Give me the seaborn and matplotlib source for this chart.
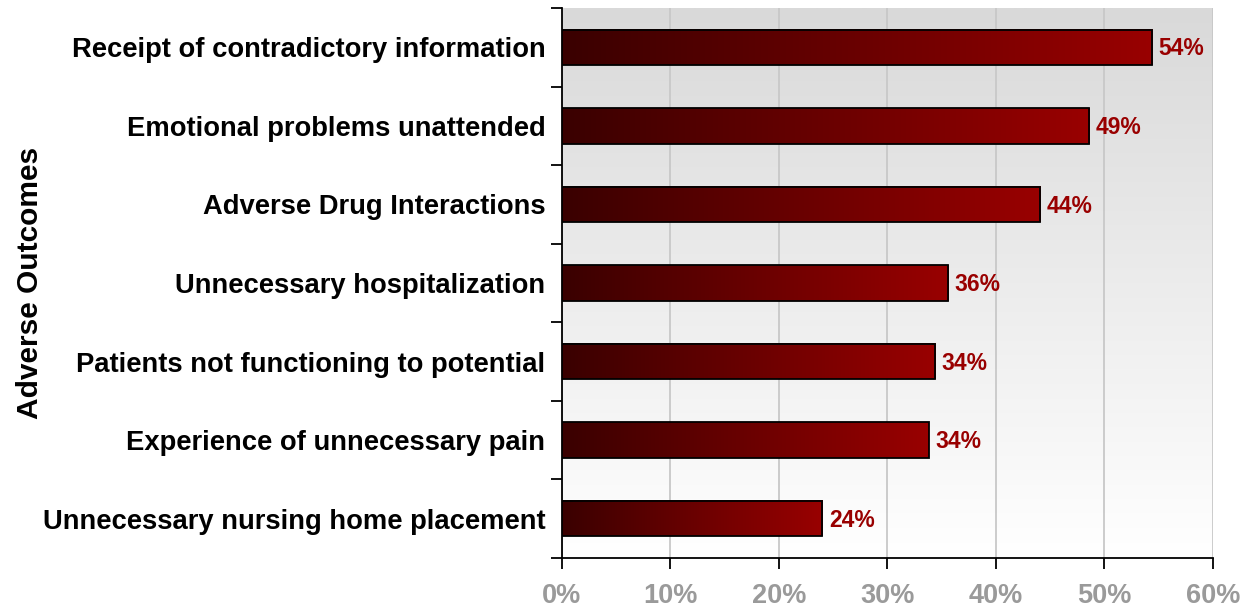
import numpy as np
import pandas as pd
import matplotlib
matplotlib.use("Agg")
import matplotlib.pyplot as plt
from matplotlib.colors import LinearSegmentedColormap
from matplotlib.ticker import FixedLocator, PercentFormatter
import seaborn as sns

# data
outcomes = [
    "Receipt of contradictory information",
    "Emotional problems unattended",
    "Adverse Drug Interactions",
    "Unnecessary hospitalization",
    "Patients not functioning to potential",
    "Experience of unnecessary pain",
    "Unnecessary nursing home placement",
]
shares = [54.4, 48.6, 44.1, 35.6, 34.4, 33.8, 24.0]
labels = ["54%", "49%", "44%", "36%", "34%", "34%", "24%"]

df = pd.DataFrame({"outcome": outcomes, "share": shares})

sns.set_style("white")
plt.rcParams["font.family"] = ["Liberation Sans", "DejaVu Sans"]
plt.rcParams["font.weight"] = "bold"

fig = plt.figure(figsize=(12.55, 6.08), dpi=100)
ax = fig.add_axes([0.4478, 0.0822, 0.5187, 0.9046])

bar_h = 0.45
sns.barplot(data=df, y="outcome", x="share", orient="h", width=bar_h,
            facecolor="none", edgecolor="black", linewidth=1.3, ax=ax, zorder=4)

ax.set_xlim(0, 60)
ax.set_ylim(len(outcomes) - 0.5, -0.5)

# background: grey at top fading to white
bg = LinearSegmentedColormap.from_list("bg", ["#ffffff", "#d9d9d9"])
ax.imshow(np.linspace(0, 1, 256).reshape(-1, 1), cmap=bg, aspect="auto",
          extent=[0, 1, 0, 1], transform=ax.transAxes, zorder=0, origin="lower")

# bar fill: dark maroon to red along each bar
bar_cmap = LinearSegmentedColormap.from_list("bar", ["#3a0000", "#990000"])
grad = np.linspace(0, 1, 256).reshape(1, -1)
for i, v in enumerate(shares):
    ax.imshow(grad, cmap=bar_cmap, aspect="auto",
              extent=[0, v, i + bar_h / 2, i - bar_h / 2], zorder=3)
    ax.text(v + 0.6, i + 0.02, labels[i], va="center", ha="left", color="#990000",
            fontsize=16.5, fontweight="bold", zorder=5)
ax.set_xlim(0, 60)
ax.set_ylim(len(outcomes) - 0.5, -0.5)

ax.set_xticks(range(0, 61, 10))
ax.xaxis.set_major_formatter(PercentFormatter(decimals=0))
ax.grid(axis="x", color="#c8c8c8", linewidth=1.3, zorder=1)
ax.set_axisbelow(True)

ax.tick_params(axis="x", length=8, width=1.3, color="black", direction="out",
               labelsize=19.5, labelcolor="#9a9a9a", pad=10, bottom=True)
ax.tick_params(axis="y", which="major", length=0, labelsize=19.7,
               labelcolor="black", pad=12)
ax.yaxis.set_minor_locator(FixedLocator(np.arange(-0.5, len(outcomes), 1.0)))
ax.tick_params(axis="y", which="minor", length=8, width=1.3, color="black",
               direction="out", left=True)
for t in ax.get_xticklabels() + ax.get_yticklabels():
    t.set_fontweight("bold")

for s in ["top", "right"]:
    ax.spines[s].set_visible(False)
for s in ["left", "bottom"]:
    ax.spines[s].set_color("black")
    ax.spines[s].set_linewidth(1.3)

ax.set_xlabel("")
ax.set_ylabel("Adverse Outcomes", fontsize=21.5, fontweight="bold",
              color="black")
ax.yaxis.set_label_coords(-0.796, 0.5)

fig.savefig("out.png", dpi=100)
